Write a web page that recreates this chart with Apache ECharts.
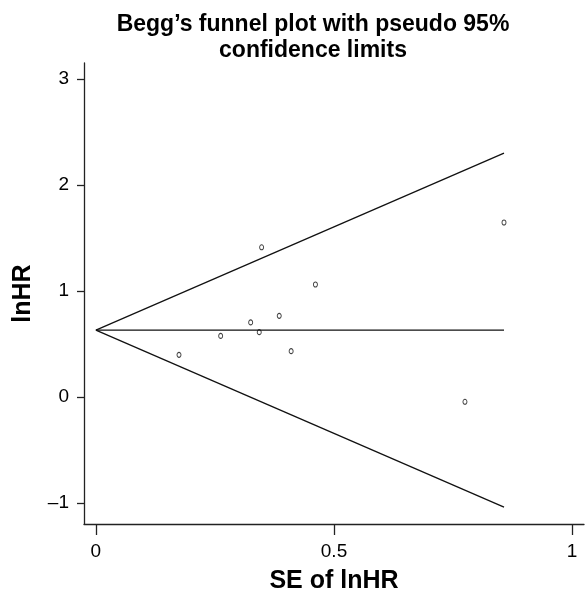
<!DOCTYPE html>
<html>
<head>
<meta charset="utf-8">
<script src="https://cdn.jsdelivr.net/npm/echarts@6/dist/echarts.min.js"></script>
<style>html,body{margin:0;padding:0;background:#fff}#c{width:585px;height:593px}</style>
</head>
<body>
<div id="c"></div>
<script>
// Study points: SE of lnHR and lnHR
const seValues = [0.1745, 0.262, 0.325, 0.343, 0.348, 0.385, 0.410, 0.461, 0.775, 0.857];
const lnhrValues = [0.396, 0.575, 0.702, 0.610, 1.411, 0.764, 0.431, 1.060, -0.047, 1.645];
// Funnel lines (pseudo 95% confidence limits)
const lineSE = [0, 0.857];
const pooledLine = [0.63, 0.63];
const upperLine = [0.63, 2.30];
const lowerLine = [0.63, -1.04];
// Tick values
const xTicks = [0, 0.5, 1];
const yTicks = [-1, 0, 1, 2, 3];

const pts = seValues.map((s, i) => [s, lnhrValues[i]]);
const mk = arr => lineSE.map((s, i) => [s, arr[i]]);

const font = 'Liberation Sans, Arial, sans-serif';
const chart = echarts.init(document.getElementById('c'), null, {renderer: 'canvas'});
const lineStyle = {color: '#111', width: 1.3};
chart.setOption({
  animation: false,
  backgroundColor: '#fff',
  title: {
    text: 'Begg\u2019s funnel plot with pseudo 95%\nconfidence limits',
    left: 308, top: 7, textAlign: 'center',
    textStyle: {fontFamily: font, fontWeight: 'bold', fontSize: 23, color: '#000', lineHeight: 26}
  },
  grid: {left: 84, right: 1, top: 63, bottom: 69, outerBoundsMode: 'none', containLabel: false},
  xAxis: {
    type: 'value', min: -0.025, max: 1.025,
    name: 'SE of lnHR', nameLocation: 'middle', nameGap: 45,
    nameTextStyle: {fontFamily: font, fontWeight: 'bold', fontSize: 25, color: '#000'},
    axisLine: {show: true, onZero: false, lineStyle: {color: '#222', width: 1.3}},
    axisTick: {show: true, customValues: xTicks, length: 11, lineStyle: {color: '#222', width: 1.3}},
    axisLabel: {customValues: xTicks, margin: 18, fontFamily: font, fontSize: 19, color: '#000',
      formatter: v => String(v)},
    splitLine: {show: false}
  },
  yAxis: {
    type: 'value', min: -1.2, max: 3.15,
    name: 'lnHR', nameLocation: 'middle', nameGap: 48, nameRotate: 90,
    nameTextStyle: {fontFamily: font, fontWeight: 'bold', fontSize: 25, color: '#000'},
    axisLine: {show: true, onZero: false, lineStyle: {color: '#222', width: 1.3}},
    axisTick: {show: true, customValues: yTicks, length: 7, lineStyle: {color: '#222', width: 1.3}},
    axisLabel: {customValues: yTicks, margin: 15, fontFamily: font, fontSize: 19, color: '#000',
      formatter: v => v < 0 ? '\u2013' + Math.abs(v) : String(v)},
    splitLine: {show: false}
  },
  series: [
    {type: 'line', data: mk(upperLine), symbol: 'none', lineStyle, silent: true},
    {type: 'line', data: mk(pooledLine), symbol: 'none', lineStyle, silent: true},
    {type: 'line', data: mk(lowerLine), symbol: 'none', lineStyle, silent: true},
    {type: 'scatter', data: pts, symbol: 'circle', symbolSize: [4, 5],
      itemStyle: {color: '#fff', borderColor: '#111', borderWidth: 1}, silent: true}
  ]
});
</script>
</body>
</html>
